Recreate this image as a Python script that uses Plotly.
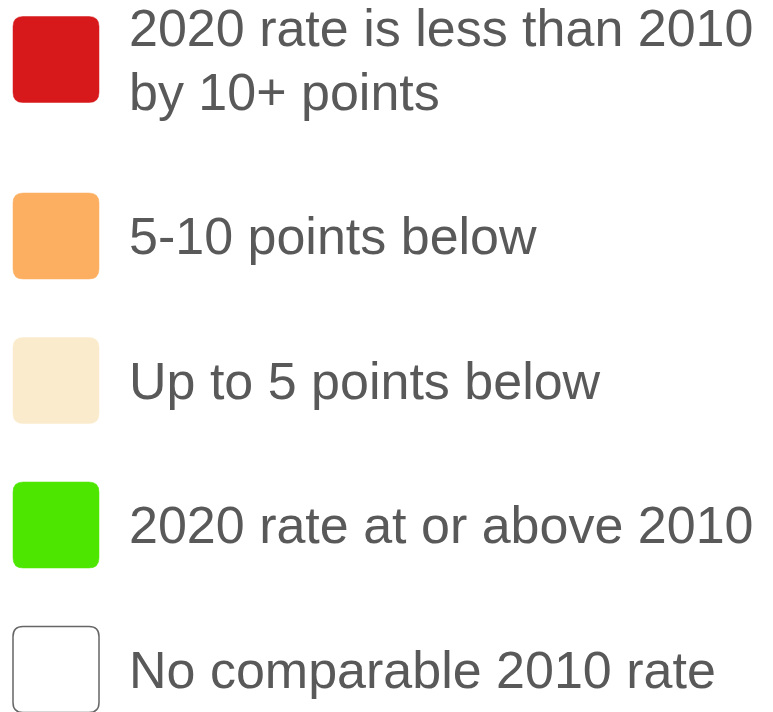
import plotly.graph_objects as go

# ---- data ----
labels = [
    "2020 rate is less than 2010<br>by 10+ points",
    "5-10 points below",
    "Up to 5 points below",
    "2020 rate at or above 2010",
    "No comparable 2010 rate",
]
fill_colors = ["#d7191c", "#fcae61", "#faebcc", "#4ce600", "#ffffff"]
line_colors = ["#d7191c", "#fcae61", "#faebcc", "#4ce600", "#666666"]

# ---- layout constants ----
W, H = 773, 712
SW_X0, SW_SIZE, RADIUS = 13, 86, 10
TEXT_X = 128
FONT_SIZE = 52
LINE_H = 64
C0 = 59.5
STEP = 144.5
TEXT_COLOR = "#595959"


def rounded_rect(x0, y0, x1, y1, r):
    return (
        f"M {x0 + r},{y0} L {x1 - r},{y0} Q {x1},{y0} {x1},{y0 + r} "
        f"L {x1},{y1 - r} Q {x1},{y1} {x1 - r},{y1} "
        f"L {x0 + r},{y1} Q {x0},{y1} {x0},{y1 - r} "
        f"L {x0},{y0 + r} Q {x0},{y0} {x0 + r},{y0} Z"
    )


fig = go.Figure()
# invisible trace to establish axes
fig.add_trace(go.Scatter(x=[0, W], y=[0, H], mode="markers",
                         marker=dict(opacity=0), hoverinfo="skip", showlegend=False))

shapes = []
annotations = []
center = C0
prev_lines = None
for i, (lab, fc, lc) in enumerate(zip(labels, fill_colors, line_colors)):
    lines = lab.split("<br>")
    if prev_lines is not None:
        center += STEP + 0.5 * LINE_H * (prev_lines - 1) + 0.5 * LINE_H * (len(lines) - 1)
    prev_lines = len(lines)
    y0 = center - SW_SIZE / 2
    y1 = center + SW_SIZE / 2
    shapes.append(dict(
        type="path", xref="x", yref="y",
        path=rounded_rect(SW_X0, y0, SW_X0 + SW_SIZE, y1, RADIUS),
        fillcolor=fc,
        line=dict(color=lc, width=1.5 if fc == "#ffffff" else 0.5),
        layer="above",
    ))
    n = len(lines)
    for j, ln in enumerate(lines):
        ty = center + (j - (n - 1) / 2) * LINE_H
        annotations.append(dict(
            x=TEXT_X, y=ty, xref="x", yref="y",
            text=ln, showarrow=False, xanchor="left", yanchor="middle",
            font=dict(family="Liberation Sans, Arial, sans-serif",
                      size=FONT_SIZE, color=TEXT_COLOR),
            borderpad=0,
        ))

fig.update_layout(
    width=W, height=H,
    margin=dict(l=0, r=0, t=0, b=0),
    paper_bgcolor="white", plot_bgcolor="white",
    xaxis=dict(range=[0, W], visible=False, fixedrange=True),
    yaxis=dict(range=[H, 0], visible=False, fixedrange=True),
    shapes=shapes,
    annotations=annotations,
    showlegend=False,
)

fig.write_html("out.html", config={"displayModeBar": False},
               post_script="document.body.style.margin='0';document.body.style.overflow='hidden';")
